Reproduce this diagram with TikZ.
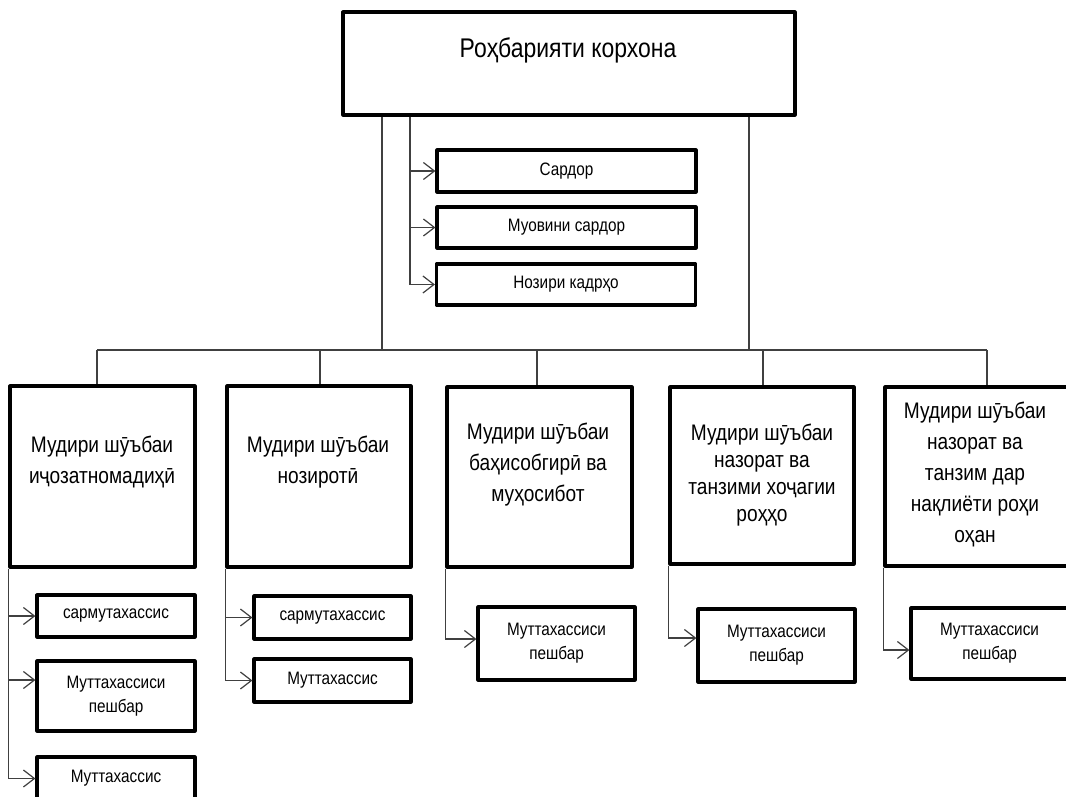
\documentclass[tikz,border=0pt]{standalone}
\usepackage{fontspec}
\setmainfont{Liberation Sans}[FakeStretch=0.85]
\usetikzlibrary{arrows.meta}
\begin{document}
\begin{tikzpicture}[x=1pt,y=-1pt,
  box/.style={draw, line width=3.2pt, rectangle, inner sep=0pt, line join=round},
  conn/.style={draw=black!75, line width=1.2pt},
  arr/.style={conn, -{Straight Barb[length=11pt,width=17pt,line width=1.2pt]}},
  ttl/.style={font=\fontsize{27}{30}\selectfont},
  big/.style={align=center, font=\fontsize{22.5}{31}\selectfont},
  bigt/.style={align=center, font=\fontsize{22.5}{27}\selectfont},
  sm/.style={align=center, font=\fontsize{18}{24}\selectfont}]
\useasboundingbox (0,0) rectangle (1066,796);
\clip (0,0) rectangle (1066,796);
\fill[white] (0,0) rectangle (1066,796);

% top management
\node[box, minimum width=452pt, minimum height=103pt] (top) at (569,63.5) {};
\node[ttl] (ttop) at (568,50) {Роҳбарияти корхона};

\node[box, sm, minimum width=259pt, minimum height=42pt] (s1) at (566.5,171) {Сардор};
\node[box, sm, minimum width=259pt, minimum height=41pt] (s2) at (566.5,227.5) {Муовини сардор};
\node[box, sm, minimum width=259pt, minimum height=41pt] (s3) at (566,284.5) {Нозири кадрҳо};

% department heads
\node[box, minimum width=185pt, minimum height=181pt] (m1) at (102.5,476.5) {};
\node[box, minimum width=184pt, minimum height=181pt] (m2) at (319,476.5) {};
\node[box, minimum width=185pt, minimum height=180pt] (m3) at (539.5,477) {};
\node[box, minimum width=184pt, minimum height=177pt] (m4) at (762,475.5) {};
\node[box, minimum width=183pt, minimum height=179pt] (m5) at (976.5,476.5) {};

\node[big] (t1) at (102,461.5) {Мудири шӯъбаи\\иҷозатномадиҳӣ};
\node[big] (t2) at (318,462) {Мудири шӯъбаи\\нозиротӣ};
\node[big] (t3) at (538,464.5) {Мудири шӯъбаи\\баҳисобгирӣ ва\\муҳосибот};
\node[bigt] (t4) at (762,475.5) {Мудири шӯъбаи\\назорат ва\\танзими хоҷагии\\роҳҳо};
\node[big] (t5) at (975,474) {Мудири шӯъбаи\\назорат ва\\танзим дар\\нақлиёти роҳи\\оҳан};

% specialists
\node[box, sm, minimum width=158pt, minimum height=42pt] (a1) at (116,616) {сармутахассис};
\node[box, sm, minimum width=158pt, minimum height=70pt] (a2) at (116,696) {Муттахассиси\\пешбар};
\node[box, sm, minimum width=158pt, minimum height=43pt] (a3) at (116,778.5) {Муттахассис};
\node[box, sm, minimum width=157pt, minimum height=43pt] (b1) at (332.5,617.5) {сармутахассис};
\node[box, sm, minimum width=157pt, minimum height=43pt] (b2) at (332.5,680.5) {Муттахассис};
\node[box, sm, minimum width=157pt, minimum height=73pt] (c1) at (556.5,643.5) {Муттахассиси\\пешбар};
\node[box, sm, minimum width=157pt, minimum height=73pt] (d1) at (776.5,645.5) {Муттахассиси\\пешбар};
\node[box, sm, minimum width=157pt, minimum height=71pt] (e1) at (989.5,643.5) {Муттахассиси\\пешбар};

% arrow targets
\coordinate (a2t) at ([yshift=16pt]a2.west);
\coordinate (c1t) at ([yshift=4.5pt]c1.west);
\coordinate (d1t) at ([yshift=7.5pt]d1.west);
\coordinate (e1t) at ([yshift=-6.5pt]e1.west);

% connectors from top
\coordinate (tl) at (382,350);
\coordinate (tr) at (749,350);
\coordinate (ta) at (410,0);
\draw[conn] (top.south -| tl) -- (tl);
\draw[conn] (top.south -| tr) -- (tr);
\draw[arr] (top.south -| ta) |- (s3.west);
\draw[arr] (s1.west -| ta) -- (s1.west);
\draw[arr] (s2.west -| ta) -- (s2.west);

% bus
\coordinate (d1c) at (97,350);
\coordinate (d2c) at (320,350);
\coordinate (d3c) at (537,350);
\coordinate (d4c) at (763,350);
\coordinate (d5c) at (987,350);
\draw[conn] (d1c) -- (d5c);
\draw[conn] (d1c) -- (d1c |- m1.north);
\draw[conn] (d2c) -- (d2c |- m2.north);
\draw[conn] (d3c) -- (d3c |- m3.north);
\draw[conn] (d4c) -- (d4c |- m4.north);
\draw[conn] (d5c) -- (d5c |- m5.north);

% column branches
\draw[arr] (m1.south west) |- (a3.west);
\draw[arr] (m1.south west |- a1.west) -- (a1.west);
\draw[arr] (m1.south west |- a2t) -- (a2t);

\draw[arr] (m2.south west) |- (b2.west);
\draw[arr] (m2.south west |- b1.west) -- (b1.west);

\draw[arr] (m3.south west) |- (c1t);
\draw[arr] (m4.south west) |- (d1t);
\draw[arr] (m5.south west) |- (e1t);
\end{tikzpicture}
\end{document}
